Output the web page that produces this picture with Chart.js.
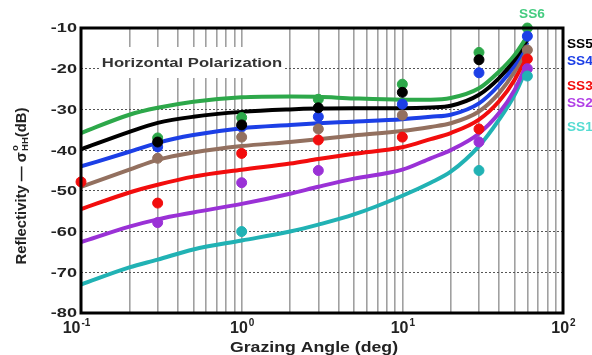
<!DOCTYPE html>
<html>
<head>
<meta charset="utf-8">
<script src="https://cdn.jsdelivr.net/npm/chart.js@4.4.1/dist/chart.umd.min.js"></script>
<style>
  html, body { margin: 0; padding: 0; background: #fff; }
  #wrap { width: 592px; height: 355px; }
</style>
</head>
<body>
<div id="wrap"><canvas id="grafica" width="592" height="355"></canvas></div>
<script>
const curveAngles = [0.1, 0.2, 0.3, 0.5, 1, 2, 3, 5, 10, 15, 20, 30, 40, 50, 60];
// model curves (dB)
const ss6Curve = [-35.8, -31.3, -29.6, -28.1, -27.0, -26.8, -26.9, -27.3, -27.6, -27.6, -27.2, -24.8, -20.7, -16.6, -12.0];
const ss5Curve = [-39.8, -35.5, -33.3, -31.8, -30.6, -30.0, -29.8, -29.7, -29.7, -29.5, -29.1, -26.4, -22.3, -17.8, -12.8];
const ss4Curve = [-44.0, -40.4, -38.2, -36.3, -34.6, -33.8, -33.4, -33.0, -32.4, -31.8, -31.3, -28.5, -24.0, -19.1, -13.5];
const brownCurve = [-49.0, -44.8, -42.4, -40.6, -39.0, -38.0, -37.3, -36.4, -35.3, -34.3, -33.4, -30.5, -26.0, -20.7, -14.8];
const ss3Curve = [-54.5, -50.4, -48.5, -46.5, -44.8, -43.3, -42.2, -40.9, -39.3, -37.3, -35.8, -32.5, -28.0, -22.7, -16.5];
const ss2Curve = [-62.6, -58.8, -57.0, -55.3, -53.2, -50.7, -49.0, -47.0, -44.8, -42.0, -40.0, -35.9, -30.9, -25.2, -18.5];
const ss1Curve = [-73.0, -68.8, -66.9, -64.4, -62.2, -60.0, -58.3, -55.8, -51.2, -48.0, -45.3, -39.0, -32.5, -26.4, -19.5];

// measured points
const ss6PtX = [0.3, 1, 3, 10, 30, 60];
const ss6PtY = [-37, -32, -27.5, -23.8, -16, -10];
const ss5PtX = [0.3, 1, 3, 10, 30];
const ss5PtY = [-38, -33.8, -29.6, -25.8, -17.8];
const ss4PtX = [0.3, 1, 3, 10, 30, 60];
const ss4PtY = [-39.2, -34.3, -31.8, -28.7, -21, -12];
const brownPtX = [0.3, 1, 3, 10, 60];
const brownPtY = [-42, -36.8, -34.8, -31.4, -15.4];
const ss3PtX = [0.1, 0.3, 1, 3, 10, 30, 60];
const ss3PtY = [-47.8, -53, -40.8, -37.5, -36.8, -34.8, -17.6];
const ss2PtX = [0.3, 1, 3, 30, 60];
const ss2PtY = [-57.8, -48, -45, -38, -20];
const ss1PtX = [1, 30, 60];
const ss1PtY = [-60, -45, -21.8];

const yTicks = [-80, -70, -60, -50, -40, -30, -20, -10];
const xGridTicks = [0.1, 0.2, 0.3, 0.4, 0.5, 0.6, 0.7, 0.8, 0.9, 1, 2, 3, 4, 5, 6, 7, 8, 9, 10, 20, 30, 40, 50, 60, 70, 80, 90, 100];
const xLabelTicks = [0.1, 1, 10, 100];
const xLabelExp = ['-1', '0', '1', '2'];

const FONT = '"Liberation Sans", Arial, sans-serif';

const colores = {
    ss6: '#2da84a', ss5: '#000000', ss4: '#1c3fe6', brown: '#93705f',
    ss3: '#f20d0d', ss2: '#9a31d6', ss1: '#21b2b4'
};

function puntos(xs, ys) {
    return xs.map((x, i) => ({ x: x, y: ys[i] }));
}

function curva(ys, color, order) {
    return {
        type: 'line', data: puntos(curveAngles, ys), borderColor: color,
        borderWidth: 4, pointRadius: 0, cubicInterpolationMode: 'monotone',
        fill: false, order: order
    };
}

function marcas(xs, ys, color) {
    return {
        type: 'scatter', data: puntos(xs, ys), backgroundColor: color, borderColor: color,
        pointRadius: 5, pointHoverRadius: 5, showLine: false, clip: false, order: 0
    };
}

// text stretched horizontally, like the original figure
function texto(ctx, t, x, y, font, sx, align) {
    ctx.save();
    ctx.font = font;
    const w = ctx.measureText(t).width * sx;
    let x0 = x;
    if (align === 'center') x0 = x - w / 2;
    if (align === 'right') x0 = x - w;
    ctx.translate(x0, y);
    ctx.scale(sx, 1);
    ctx.textAlign = 'left';
    ctx.fillText(t, 0, 0);
    ctx.restore();
}

const extras = {
    id: 'extras',
    afterDraw(chart) {
        const ctx = chart.ctx;
        const a = chart.chartArea;
        const xs = chart.scales.x;
        const ys = chart.scales.y;
        ctx.save();

        // white box behind the inner title
        ctx.fillStyle = '#fff';
        ctx.fillRect(100, 47, 184, 31);
        ctx.fillStyle = '#333';
        ctx.textBaseline = 'middle';
        texto(ctx, 'Horizontal Polarization', 192, 63, 'bold 13px ' + FONT, 1.28, 'center');

        // frame
        ctx.strokeStyle = '#000';
        ctx.lineWidth = 3;
        ctx.strokeRect(a.left, a.top, a.right - a.left, a.bottom - a.top);

        // y tick labels
        ctx.fillStyle = '#222';
        yTicks.forEach(v => {
            texto(ctx, String(v), 77, ys.getPixelForValue(v) + 1, 'bold 12.5px ' + FONT, 1.45, 'right');
        });

        // x tick labels 10^n
        ctx.textBaseline = 'alphabetic';
        xLabelTicks.forEach((v, i) => {
            const px = xs.getPixelForValue(v);
            ctx.font = 'bold 16px ' + FONT;
            const wb = ctx.measureText('10').width;
            ctx.font = 'bold 10px ' + FONT;
            const we = ctx.measureText(xLabelExp[i]).width;
            const x0 = px - (wb + we) / 2 - (i === 0 ? 5 : 0);
            ctx.textAlign = 'left';
            ctx.font = 'bold 16px ' + FONT;
            ctx.fillText('10', x0, 333);
            ctx.font = 'bold 10px ' + FONT;
            ctx.fillText(xLabelExp[i], x0 + wb + 1, 326);
        });

        // x title
        texto(ctx, 'Grazing Angle (deg)', 314, 352, 'bold 15px ' + FONT, 1.18, 'center');

        // y title, rotated
        ctx.translate(22, 186);
        ctx.rotate(-Math.PI / 2);
        const partes = [
            { t: 'Reflectivity \u2014 \u03C3', f: 'bold 14px ', dy: 0 },
            { t: 'o', f: 'bold 9px ', dy: -6 },
            { t: 'HH', f: 'bold 9px ', dy: 4 },
            { t: '(dB)', f: 'bold 14px ', dy: 0 }
        ];
        partes.forEach(p => { ctx.font = p.f + FONT; p.w = ctx.measureText(p.t).width; });
        const total = (partes[0].w + partes[2].w + partes[3].w + 1) * 1.06;
        ctx.scale(1.06, 1);
        let cx = -total / 2 / 1.06;
        ctx.textAlign = 'left';
        ctx.textBaseline = 'middle';
        partes.forEach((p, i) => {
            ctx.font = p.f + FONT;
            ctx.fillText(p.t, cx, p.dy);
            if (i === 1) return; // superscript stacks over subscript
            cx += p.w + (i === 0 ? 1 : 0);
        });
        ctx.restore();

        // series labels
        ctx.save();
        ctx.textBaseline = 'middle';
        const etiquetas = [
            ['SS5', '#000000', 44], ['SS4', '#1c3fe6', 61], ['SS3', '#f20d0d', 86],
            ['SS2', '#b13fe6', 103], ['SS1', '#55dcd2', 127]
        ];
        etiquetas.forEach(e => {
            ctx.fillStyle = e[1];
            texto(ctx, e[0], 567, e[2], 'bold 13px ' + FONT, 1.05, 'left');
        });
        ctx.fillStyle = '#44cc80';
        texto(ctx, 'SS6', 532, 14, 'bold 13px ' + FONT, 1.05, 'center');
        ctx.restore();
    }
};

new Chart(document.getElementById('grafica'), {
    data: {
        datasets: [
            curva(ss1Curve, colores.ss1, 7),
            curva(ss2Curve, colores.ss2, 6),
            curva(ss3Curve, colores.ss3, 5),
            curva(brownCurve, colores.brown, 4),
            curva(ss4Curve, colores.ss4, 3),
            curva(ss5Curve, colores.ss5, 2),
            curva(ss6Curve, colores.ss6, 1),
            marcas(ss1PtX, ss1PtY, colores.ss1),
            marcas(ss2PtX, ss2PtY, colores.ss2),
            marcas(ss3PtX, ss3PtY, colores.ss3),
            marcas(brownPtX, brownPtY, colores.brown),
            marcas(ss5PtX, ss5PtY, colores.ss5),
            marcas(ss4PtX, ss4PtY, colores.ss4),
            marcas(ss6PtX, ss6PtY, colores.ss6)
        ]
    },
    options: {
        responsive: false,
        animation: false,
        layout: { padding: { left: 0, top: 28, right: 29, bottom: 0 } },
        plugins: { legend: { display: false }, tooltip: { enabled: false } },
        scales: {
            x: {
                type: 'logarithmic', min: 0.1, max: 100,
                afterBuildTicks: s => { s.ticks = xGridTicks.map(v => ({ value: v })); },
                afterFit: s => { s.height = 42; },
                ticks: { display: false },
                grid: { color: '#a0a0a0', lineWidth: 1.6, drawTicks: false },
                border: { display: false }
            },
            y: {
                min: -80, max: -10,
                afterBuildTicks: s => { s.ticks = yTicks.map(v => ({ value: v })); },
                afterFit: s => { s.width = 81; },
                ticks: { display: false },
                grid: { color: '#555', lineWidth: 1, drawTicks: false },
                border: { display: false, dash: [2, 2] }
            }
        }
    },
    plugins: [extras]
});
</script>
</body>
</html>
